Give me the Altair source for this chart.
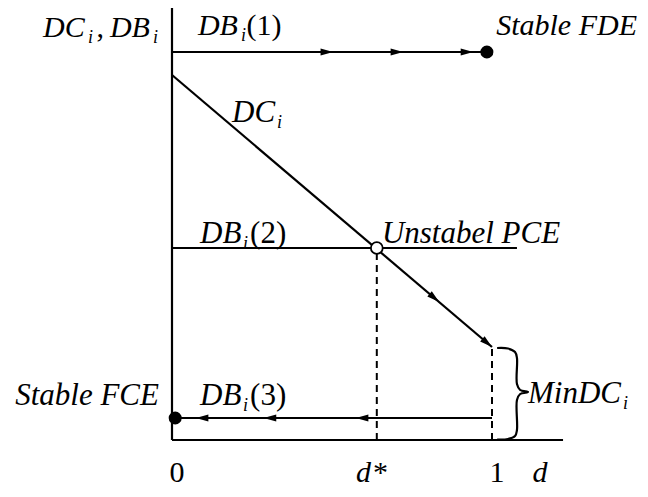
import altair as alt
import pandas as pd

# ---- coordinate frame (d on x, DC/DB level on y) ----
X_MIN, X_MAX = -0.5125, 1.4625
Y_MIN, Y_MAX = -0.49, 4.32

# ---- solid segments: axes, DB_i(1), DC_i, DB_i(2), DB_i(3) ----
seg_name = ["y axis", "x axis", "DB1", "DC", "DB2", "DB3"]
seg_x1 = [0.0, 0.0, 0.0, 0.0, 0.0, 0.0]
seg_y1 = [0.0, 0.0, 3.88, 3.65, 1.92, 0.22]
seg_x2 = [0.0, 1.222, 0.984, 1.0, 1.078, 1.0]
seg_y2 = [4.32, 0.0, 3.88, 0.93, 1.92, 0.22]

# ---- dashed drop lines at d* and 1 ----
dash_x = [0.64, 1.0]
dash_top = [1.92, 0.93]

# ---- arrow heads ----
arrow_x = [0.484, 0.703, 0.922, 0.82, 0.985, 0.094, 0.306, 0.594]
arrow_y = [3.88, 3.88, 3.88, 1.42, 0.97, 0.22, 0.22, 0.22]
arrow_angle = [0, 0, 0, 40, 40, 180, 180, 180]

# ---- equilibrium points ----
stable_x = [0.984, 0.01]
stable_y = [3.88, 0.22]
unstable_x = [0.64]
unstable_y = [1.92]

# ---- curly brace (MinDC_i) ----
brace_x = [1.016, 1.05, 1.072, 1.078, 1.078, 1.088, 1.1125, 1.088, 1.078, 1.078, 1.072, 1.05, 1.016]
brace_y = [0.92, 0.915, 0.88, 0.82, 0.56, 0.50, 0.48, 0.46, 0.40, 0.10, 0.04, 0.01, 0.005]

# ---- labels ----
ital_text = ["DC", "i", "DB", "i", "DB", "i", "Stable FDE", "DC", "i", "DB", "i",
             "Unstabel PCE", "Stable FCE", "DB", "i", "MinDC", "i", "d"]
ital_x = [-0.403, -0.2625, -0.194, -0.059, 0.081, 0.216, 1.013, 0.1875, 0.328, 0.0875, 0.222,
          0.656, -0.49, 0.0875, 0.222, 1.1125, 1.409, 0.575]
ital_y = [4.03, 3.97, 4.03, 3.97, 4.05, 3.99, 4.05, 3.18, 3.12, 1.97, 1.91,
          1.97, 0.35, 0.35, 0.29, 0.37, 0.31, -0.42]
ital_size = [30, 18, 30, 18, 30, 18, 30, 31, 18, 31, 18, 31, 31, 31, 18, 31, 18, 30]

up_text = [",", "(1)", "(2)", "(3)", "*"]
up_x = [-0.236, 0.233, 0.244, 0.244, 0.628]
up_y = [4.03, 4.05, 1.97, 0.35, -0.42]
up_size = [30, 30, 31, 31, 30]

tick_text = ["0", "1"]
tick_x = [0.016, 1.016]
tick_y = [-0.42, -0.42]
tickd_text = ["d"]
tickd_x = [1.15]
tickd_y = [-0.42]

xs = alt.Scale(domain=[X_MIN, X_MAX], nice=False, zero=False)
ys = alt.Scale(domain=[Y_MIN, Y_MAX], nice=False, zero=False)
X = lambda f="x": alt.X(f"{f}:Q", scale=xs, axis=None)
Y = lambda f="y": alt.Y(f"{f}:Q", scale=ys, axis=None)

segs = pd.DataFrame({"name": seg_name, "x": seg_x1, "y": seg_y1, "x2": seg_x2, "y2": seg_y2})
solid = alt.Chart(segs).mark_rule(color="black", strokeWidth=2.2).encode(
    x=X(), y=Y(), x2="x2:Q", y2="y2:Q")

dashes = pd.DataFrame({"x": dash_x, "y": [0.0] * len(dash_x), "y2": dash_top})
dashed = alt.Chart(dashes).mark_rule(color="black", strokeWidth=2, strokeDash=[7, 5]).encode(
    x=X(), y=Y(), y2="y2:Q")

arrows = pd.DataFrame({"x": arrow_x, "y": arrow_y, "a": arrow_angle})
arrow = alt.Chart(arrows).mark_point(
    shape="M1,0L-1,-0.55L-1,0.55Z", filled=True, color="black", size=160, opacity=1
).encode(x=X(), y=Y(), angle=alt.Angle("a:Q", scale=None))

brace = pd.DataFrame({"x": brace_x, "y": brace_y, "o": list(range(len(brace_x)))})
brace_l = alt.Chart(brace).mark_line(color="black", strokeWidth=2.2, interpolate="catmull-rom").encode(
    x=X(), y=Y(), order="o:Q")

stable = alt.Chart(pd.DataFrame({"x": stable_x, "y": stable_y})).mark_circle(
    color="black", size=170, opacity=1).encode(x=X(), y=Y())
unstable = alt.Chart(pd.DataFrame({"x": unstable_x, "y": unstable_y})).mark_point(
    shape="circle", fill="white", filled=True, stroke="black", strokeWidth=1.8, size=140, opacity=1
).encode(x=X(), y=Y())

ital = alt.Chart(pd.DataFrame({"x": ital_x, "y": ital_y, "t": ital_text, "s": ital_size})).mark_text(
    font="Liberation Serif", fontStyle="italic", align="left", baseline="alphabetic", color="black"
).encode(x=X(), y=Y(), text="t:N", size=alt.Size("s:Q", scale=None))
up = alt.Chart(pd.DataFrame({"x": up_x, "y": up_y, "t": up_text, "s": up_size})).mark_text(
    font="Liberation Serif", align="left", baseline="alphabetic", color="black"
).encode(x=X(), y=Y(), text="t:N", size=alt.Size("s:Q", scale=None))
ticks = alt.Chart(pd.DataFrame({"x": tick_x, "y": tick_y, "t": tick_text})).mark_text(
    font="Liberation Serif", fontSize=30, align="center", baseline="alphabetic", color="black"
).encode(x=X(), y=Y(), text="t:N")
tickd = alt.Chart(pd.DataFrame({"x": tickd_x, "y": tickd_y, "t": tickd_text})).mark_text(
    font="Liberation Serif", fontStyle="italic", fontSize=30, align="center", baseline="alphabetic", color="black"
).encode(x=X(), y=Y(), text="t:N")

chart = alt.layer(solid, dashed, brace_l, arrow, stable, unstable, ital, up, ticks, tickd).properties(
    width=632, height=481, autosize=alt.AutoSizeParams(type="none"), padding=0, background="white"
).configure_view(stroke=None)

chart.save("out.html", embed_options={"renderer": "svg", "actions": False})
